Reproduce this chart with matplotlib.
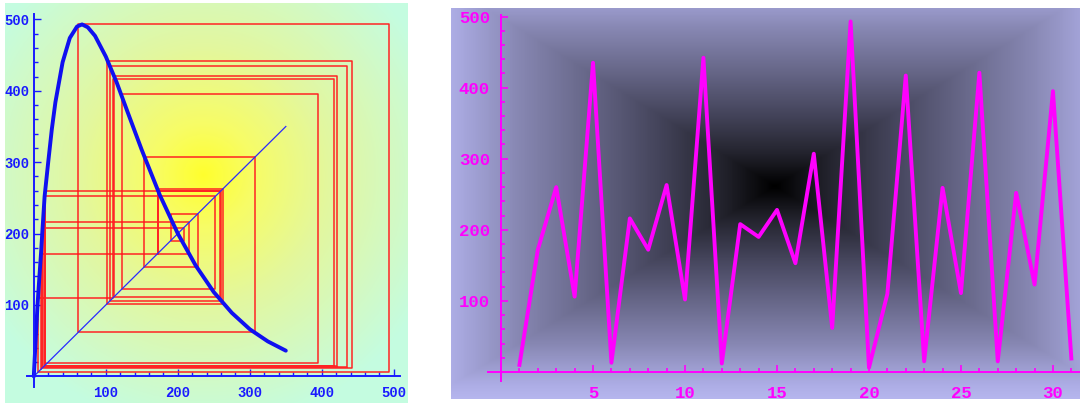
import numpy as np
import matplotlib
matplotlib.use('Agg')
import matplotlib.pyplot as plt
from matplotlib.colors import LinearSegmentedColormap
from matplotlib.ticker import FixedLocator

# ================== data ==================
# map curve (left panel)
curve_x = [0, 2, 5, 8, 10, 12, 15, 20, 25, 30, 40, 50, 60, 67, 75, 85,
           100, 115, 130, 150, 175, 200, 225, 250, 275, 300, 325, 350]
curve_y = [0, 40, 97, 143, 172, 205, 252, 300, 346, 384, 440, 474, 490, 493, 489, 477,
           448, 412, 371, 317, 254, 200, 155, 118, 89, 66, 49, 36]
diag_end = 350

# iterates (right panel)
steps = list(range(1, 32))
pop = [10, 172, 260, 106, 435, 13, 216, 172, 263, 102, 442, 12, 208, 190, 228, 153,
       307, 62, 493, 6, 110, 417, 15, 259, 111, 421, 15, 252, 123, 395, 19]

left_ticks = [100, 200, 300, 400, 500]
right_xticks = [5, 10, 15, 20, 25, 30]
right_yticks = [100, 200, 300, 400, 500]

# ================== figure ==================
W, H = 1080, 403
fig = plt.figure(figsize=(W / 100, H / 100), dpi=100)
fig.patch.set_facecolor('white')


def px_axes(x0, x1, y0, y1):
    return fig.add_axes([x0 / W, 1 - y1 / H, (x1 - x0) / W, (y1 - y0) / H])


def mma_axes(ax, color, xb, yb):
    ax.spines['top'].set_visible(False)
    ax.spines['right'].set_visible(False)
    for s in ['left', 'bottom']:
        ax.spines[s].set_position(('data', 0))
        ax.spines[s].set_color(color)
        ax.spines[s].set_linewidth(1.4)
        ax.spines[s].set_zorder(5)
    ax.spines['bottom'].set_bounds(*xb)
    ax.spines['left'].set_bounds(*yb)


mono = {'family': 'Liberation Mono', 'weight': 'bold'}

# ---------- left: cobweb ----------
ax1 = px_axes(5, 407, 3, 403)
xl1 = (-40, 518.3)
yl1 = (-37.3, 523)

# background glow, grid in panel pixels (row 0 = top)
gx, gy = np.meshgrid(np.linspace(0, 402, 300), np.linspace(0, 400, 300))
d = np.sqrt(((gx - 198) / 200) ** 2 + ((gy - 172) / 205) ** 2)
cmap1 = LinearSegmentedColormap.from_list('yel', [
    (0.0, (1.0, 1.0, 0.18)), (0.2, (0.97, 0.99, 0.40)), (0.5, (0.89, 0.97, 0.62)),
    (0.8, (0.82, 0.98, 0.78)), (1.0, (0.77, 0.99, 0.88))])
ax1.imshow(d, cmap=cmap1, vmin=0, vmax=1.25, origin='upper',
           extent=(xl1[0], xl1[1], yl1[0], yl1[1]),
           aspect='auto', zorder=0, interpolation='bilinear')
ax1.set_xlim(*xl1)
ax1.set_ylim(*yl1)

# cobweb path built from the iterates
cx, cy = [pop[0]], [pop[0]]
for a, b in zip(pop[:-1], pop[1:]):
    cx += [a, b]
    cy += [b, b]
ax1.plot(cx, cy, color='#ff2424', lw=1.1, zorder=2)
ax1.plot([0, diag_end], [0, diag_end], color='#2a2aff', lw=0.9, zorder=3)
ax1.plot(curve_x, curve_y, color='#1010f0', lw=2.8, zorder=4, solid_capstyle='round')

mma_axes(ax1, '#1a1aff', (-10, 509), (-15, 507))
ax1.xaxis.set_major_locator(FixedLocator(left_ticks))
ax1.yaxis.set_major_locator(FixedLocator(left_ticks))
ax1.xaxis.set_minor_locator(FixedLocator(list(range(20, 501, 20))))
ax1.yaxis.set_minor_locator(FixedLocator(list(range(20, 501, 20))))
ax1.tick_params(which='both', direction='in', colors='#1a1aff', width=1.0)
ax1.tick_params(which='major', length=5)
ax1.tick_params(which='minor', length=3)
ax1.tick_params(axis='x', which='major', pad=7)
ax1.tick_params(axis='y', which='major', pad=3)
for lab in ax1.get_xticklabels() + ax1.get_yticklabels():
    lab.set_fontproperties(mono)
    lab.set_fontsize(10)
    lab.set_color('#1a1aff')

# ---------- right: time series ----------
ax2 = px_axes(451, 1080, 8, 399)
xl2 = (-2.72, 31.47)
yl2 = (-38, 512)

gx, gy = np.meshgrid(np.linspace(0, 629, 400), np.linspace(0, 391, 300))
m = np.maximum(np.abs(gx - 324) / 325, np.abs(gy - 178) / 200)
cmap2 = LinearSegmentedColormap.from_list('pur', [
    (0.0, (0.0, 0.0, 0.0)), (0.15, (0.14, 0.14, 0.18)), (0.33, (0.27, 0.27, 0.36)),
    (0.52, (0.40, 0.40, 0.53)), (0.72, (0.53, 0.53, 0.70)), (0.91, (0.68, 0.68, 0.90)),
    (1.0, (0.73, 0.73, 0.95))])
ax2.imshow(m, cmap=cmap2, vmin=0, vmax=1.1, origin='upper',
           extent=(xl2[0], xl2[1], yl2[0], yl2[1]),
           aspect='auto', zorder=0, interpolation='bilinear')
ax2.set_xlim(*xl2)
ax2.set_ylim(*yl2)

ax2.plot(steps, pop, color='#ff00ff', lw=2.8, zorder=3)

mma_axes(ax2, '#ff00ff', (-0.7, 31.47), (-12, 502))
ax2.xaxis.set_major_locator(FixedLocator(right_xticks))
ax2.yaxis.set_major_locator(FixedLocator(right_yticks))
ax2.xaxis.set_minor_locator(FixedLocator(steps))
ax2.yaxis.set_minor_locator(FixedLocator(list(range(20, 501, 20))))
ax2.tick_params(which='both', direction='in', colors='#ff00ff', width=1.2)
ax2.tick_params(which='major', length=5)
ax2.tick_params(which='minor', length=3)
ax2.tick_params(axis='x', which='major', pad=10)
ax2.tick_params(axis='y', which='major', pad=8)
for lab in ax2.get_xticklabels() + ax2.get_yticklabels():
    lab.set_fontproperties(mono)
    lab.set_fontsize(12.5)
    lab.set_color('#ff00ff')

fig.savefig('out.png', dpi=100, facecolor='white')
